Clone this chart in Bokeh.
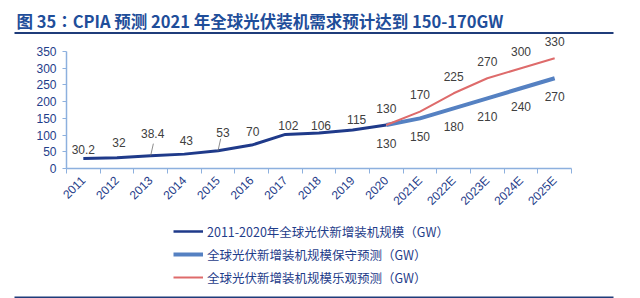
import math
from bokeh.plotting import figure
from bokeh.layouts import column
from bokeh.models import (Range1d, FixedTicker, LabelSet, ColumnDataSource,
                          Legend, LegendItem, Plot)
from bokeh.core.properties import value
from bokeh.embed import file_html
from bokeh.resources import INLINE

# ---------------- data ----------------
categories = ["2011", "2012", "2013", "2014", "2015", "2016", "2017", "2018", "2019", "2020",
              "2021E", "2022E", "2023E", "2024E", "2025E"]
hist_years = categories[0:10]
hist_values = [30.2, 32, 38.4, 43, 53, 70, 102, 106, 115, 130]
fcst_years = categories[9:15]
conservative_values = [130, 150, 180, 210, 240, 270]
optimistic_values = [130, 170, 225, 270, 300, 330]
y_ticks = [0, 50, 100, 150, 200, 250, 300, 350]

title_text = "图 35：CPIA 预测 2021 年全球光伏装机需求预计达到 150-170GW"
legend_labels = ["2011-2020年全球光伏新增装机规模（GW）",
                 "全球光伏新增装机规模保守预测（GW）",
                 "全球光伏新增装机规模乐观预测（GW）"]

# label offsets in px (style only)
hist_label_dy = [9, 15, 22, 14, 18, 14, 9, 8, 11, 17]
hist_label_dx = [0, 2, 2, 2, 5, 1, 3, 2, 4, 0]

# ---------------- styles ----------------
C_HIST = "#1F3A8A"
C_CONS = "#5581C2"
C_OPT = "#DE6B6B"
C_AXIS = "#8DB0DE"
C_TICKLBL = "#1F3D8A"
C_DATALBL = "#404040"
C_TITLE = "#1F4E9A"
C_RULE = "#1F3C7A"
LATIN = "Liberation Sans"
CJK = "Noto Sans CJK SC"
CJK_TITLE = "Noto Sans CJK TC"

W = 640
TOP_H, MAIN_H, LEG_H = 34, 181, 83
HAS_FRAME_ALIGN = "frame_align" in Plot.properties()


def strip(height):
    f = figure(width=W, height=height, output_backend="svg", toolbar_location=None,
               x_range=Range1d(0, W), y_range=Range1d(height, 0),
               min_border=0, x_axis_type=None, y_axis_type=None)
    f.outline_line_color = None
    f.grid.visible = False
    if HAS_FRAME_ALIGN:
        f.frame_align = False
    return f


# ---------------- title strip ----------------
top = strip(TOP_H)
top.text(x=[16], y=[20], text=[title_text], text_font=value(CJK_TITLE),
         text_font_style="bold", text_font_size="16.5px", text_color=C_TITLE,
         text_baseline="middle", text_align="left")
top.segment(x0=[14], y0=[32.5], x1=[613], y1=[32.5], line_color=C_RULE, line_width=2)

# ---------------- main chart ----------------
idx = {c: i + 0.5 for i, c in enumerate(categories)}
L, R = 66, 69
frame_bottom = 168 - TOP_H          # px from top of main figure
B = MAIN_H - frame_bottom
px_per_unit = 117.0 / 350.0
y_end = frame_bottom / px_per_unit

p = figure(width=W, height=MAIN_H, output_backend="svg", toolbar_location=None,
           x_range=Range1d(0, len(categories)), y_range=Range1d(0, y_end),
           min_border_left=L, min_border_right=R, min_border_top=0, min_border_bottom=B)
p.outline_line_color = None
p.xgrid.visible = False
p.ygrid.visible = False
if HAS_FRAME_ALIGN:
    p.frame_align = False

xa = p.xaxis[0]
xa.ticker = FixedTicker(ticks=[idx[c] for c in categories],
                        minor_ticks=list(range(len(categories) + 1)))
xa.major_label_overrides = {idx[c]: c for c in categories}
xa.major_tick_in = 0
xa.major_tick_out = 0
xa.minor_tick_in = 0
xa.minor_tick_out = 5
xa.minor_tick_line_color = C_AXIS
xa.axis_line_color = C_AXIS
xa.axis_line_width = 1.5
xa.major_label_orientation = math.pi / 4
xa.major_label_text_font = LATIN
xa.major_label_text_font_size = "12px"
xa.major_label_text_color = C_TICKLBL
xa.major_label_standoff = 5

ya = p.yaxis[0]
ya.ticker = FixedTicker(ticks=y_ticks)
ya.bounds = (0, 350)
ya.major_tick_in = 0
ya.major_tick_out = 4
ya.minor_tick_out = 0
ya.minor_tick_in = 0
ya.major_tick_line_color = C_AXIS
ya.axis_line_color = C_AXIS
ya.axis_line_width = 1.5
ya.major_label_text_font = LATIN
ya.major_label_text_font_size = "12px"
ya.major_label_text_color = C_TICKLBL
ya.major_label_standoff = 6

hx = [idx[c] for c in hist_years]
fx = [idx[c] for c in fcst_years]
p.line(hx, hist_values, line_color=C_HIST, line_width=3)
p.line(fx, conservative_values, line_color=C_CONS, line_width=4)
p.line(fx, optimistic_values, line_color=C_OPT, line_width=2)

# leader lines for 38.4 and 53
lead_i = [2, 4]
p.segment(x0=[hx[i] for i in lead_i], y0=[hist_values[i] for i in lead_i],
          x1=[hx[i] + 0.08 for i in lead_i], y1=[hist_values[i] + 36 for i in lead_i],
          line_color="#707070", line_width=0.8)


def fmt(v):
    return "%g" % v


hsrc = ColumnDataSource(dict(x=hx, y=hist_values, t=[fmt(v) for v in hist_values],
                             dy=hist_label_dy, dx=hist_label_dx))
p.add_layout(LabelSet(x="x", y="y", text="t", source=hsrc, x_offset="dx", y_offset="dy",
                      text_align="center", text_baseline="middle",
                      text_font=value(LATIN), text_font_size="12px", text_color=C_DATALBL))
csrc = ColumnDataSource(dict(x=fx, y=conservative_values, t=[fmt(v) for v in conservative_values]))
p.add_layout(LabelSet(x="x", y="y", text="t", source=csrc, y_offset=-18,
                      text_align="center", text_baseline="middle",
                      text_font=value(LATIN), text_font_size="12px", text_color=C_DATALBL))
osrc = ColumnDataSource(dict(x=fx[1:], y=optimistic_values[1:],
                             t=[fmt(v) for v in optimistic_values[1:]]))
p.add_layout(LabelSet(x="x", y="y", text="t", source=osrc, y_offset=17,
                      text_align="center", text_baseline="middle",
                      text_font=value(LATIN), text_font_size="12px", text_color=C_DATALBL))

# ---------------- legend strip ----------------
leg = strip(LEG_H)
# legend proxies kept outside the visible range
g1 = leg.line(x=[-20, -10], y=[-20, -20], line_color=C_HIST, line_width=2.5)
g2 = leg.line(x=[-20, -10], y=[-20, -20], line_color=C_CONS, line_width=4)
g3 = leg.line(x=[-20, -10], y=[-20, -20], line_color=C_OPT, line_width=2)
legend = Legend(items=[LegendItem(label=legend_labels[0], renderers=[g1]),
                       LegendItem(label=legend_labels[1], renderers=[g2]),
                       LegendItem(label=legend_labels[2], renderers=[g3])],
                location=(173, 11), orientation="vertical",
                padding=0, margin=0, spacing=3, glyph_width=30, glyph_height=20,
                label_height=20, label_standoff=4,
                label_text_font=CJK, label_text_font_size="12.5px",
                label_text_color=C_TICKLBL, border_line_color=None,
                background_fill_alpha=0)
leg.add_layout(legend, "center")
leg.segment(x0=[14], y0=[82], x1=[613], y1=[82], line_color=C_RULE, line_width=2)

layout = column(top, p, leg, spacing=0)
open("out.html", "w").write(file_html(layout, INLINE))
